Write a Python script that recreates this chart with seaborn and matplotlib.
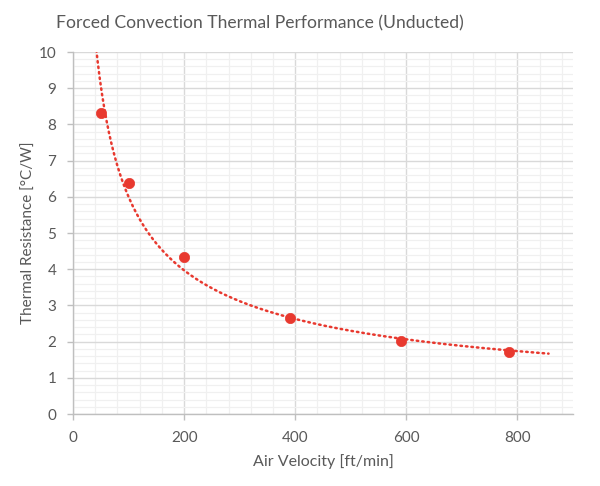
import numpy as np
import pandas as pd
import matplotlib
matplotlib.use("Agg")
import matplotlib.pyplot as plt
from matplotlib.ticker import MultipleLocator
import seaborn as sns

# Data
air_velocity = [50, 100, 200, 390, 590, 785]
thermal_resistance = [8.32, 6.38, 4.34, 2.65, 2.02, 1.71]
trend_x_start, trend_x_end = 40, 856

title = "Forced Convection Thermal Performance (Unducted)"
x_label = "Air Velocity [ft/min]"
y_label = "Thermal Resistance [°C/W]"

sns.set_theme(style="white")
plt.rcParams['font.family'] = ['Lato', 'DejaVu Sans']

red = "#E8392F"
gray_txt = "#595959"

fig = plt.figure(figsize=(6, 4.86), dpi=100)
ax = fig.add_axes([0.1217, 0.148, 0.8333, 0.745])

df = pd.DataFrame({"v": air_velocity, "r": thermal_resistance})

# Power trendline (Excel-style), fitted in log-log space
b, lna = np.polyfit(np.log(df["v"]), np.log(df["r"]), 1)
tx = np.linspace(trend_x_start, trend_x_end, 400)
trend = pd.DataFrame({"v": tx, "r": np.exp(lna) * tx ** b})
sns.lineplot(data=trend, x="v", y="r", ax=ax, color=red, linewidth=1.8,
             linestyle=(0, (0.6, 1.6)), dash_capstyle="round", zorder=3)
sns.scatterplot(data=df, x="v", y="r", ax=ax, color=red, s=55,
                edgecolor=red, linewidth=0.5, zorder=4)

ax.set_xlim(0, 900)
ax.set_ylim(0, 10)
ax.xaxis.set_major_locator(MultipleLocator(200))
ax.xaxis.set_minor_locator(MultipleLocator(40))
ax.yaxis.set_major_locator(MultipleLocator(1))
ax.yaxis.set_minor_locator(MultipleLocator(0.2))
ax.grid(which="major", color="#D9D9D9", linewidth=1.0)
ax.grid(which="minor", color="#F0F0F0", linewidth=0.9)
ax.set_axisbelow(True)

for s in ["top", "right"]:
    ax.spines[s].set_visible(False)
for s in ["left", "bottom"]:
    ax.spines[s].set_color("#BFBFBF")
    ax.spines[s].set_linewidth(1.0)

ax.tick_params(which="major", axis="both", direction="out", length=4,
               color="#BFBFBF", width=1, labelsize=11, labelcolor=gray_txt, pad=6)
ax.tick_params(which="minor", length=0)
ax.tick_params(axis="x", bottom=True, pad=8)
ax.tick_params(axis="y", left=True, pad=8)

ax.set_xlabel(x_label, fontsize=11.5, color=gray_txt, labelpad=7)
ax.set_ylabel(y_label, fontsize=11, color=gray_txt, labelpad=2)
fig.suptitle(title, x=0.433, y=0.968, fontsize=12.6, color=gray_txt)

fig.savefig("out.png", dpi=100)
